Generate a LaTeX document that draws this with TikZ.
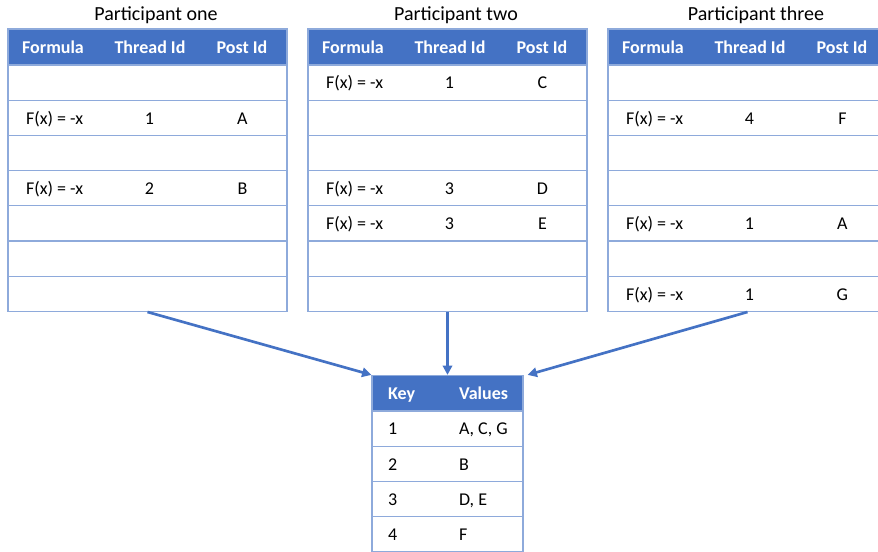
\documentclass[tikz,border=0pt]{standalone}
\usepackage{fontspec}
\setmainfont{Carlito}
\usepackage{tikz}
\usetikzlibrary{arrows.meta,positioning,calc}
\definecolor{headblue}{HTML}{4472C4}
\definecolor{gridblue}{HTML}{8EAADB}
\definecolor{arrowblue}{HTML}{4472C4}

\begin{document}
\begin{tikzpicture}[x=0.75pt,y=-0.75pt,>={Triangle[length=7pt,width=7pt]},
  font=\fontsize{13.5}{16}\selectfont,
  every node/.style={text height=2ex,text depth=0pt},
  head/.style={draw=gridblue,line width=0.9pt,fill=headblue,minimum width=209.25pt,minimum height=27pt,inner sep=0pt},
  row/.style={draw=gridblue,line width=0.9pt,fill=white,minimum width=209.25pt,minimum height=26.4pt,inner sep=0pt},
  keyhead/.style={head,minimum width=113.25pt},
  keyrow/.style={row,minimum width=113.25pt},
  htext/.style={text=white,font=\fontsize{13.5}{16}\selectfont\bfseries},
  ttext/.style={font=\fontsize{15}{18}\selectfont},
  link/.style={->,draw=arrowblue,line width=2pt}]
\useasboundingbox (0,0) rectangle (878,552);

% the three participant tables
\foreach \x/\i/\name in {8/1/one,308/2/two,608/3/three}{
  \node[ttext] (title\i) at (\x+148,14) {Participant \name};
  \node[head] (p\i h) at (\x+139.5,47) {};
  \foreach \r in {1,...,7}
    \node[row] (p\i r\r) at (\x+139.5,65+35.2*\r-17.6) {};
  \node[htext] (p\i hf) at (\x+45,47) {Formula};
  \node[htext] (p\i ht) at (\x+142,47) {Thread Id};
  \node[htext] (p\i hp) at (\x+234,47) {Post Id};
}

% table contents
\foreach \i/\r/\t/\p in {1/2/1/A,1/4/2/B,2/1/1/C,2/4/3/D,2/5/3/E,3/2/4/F,3/5/1/A,3/7/1/G}{
  \node[anchor=west] (f\i\r) at ($(p\i r\r.west)+(14,0)$) {F(x) = -x};
  \node (t\i\r) at ($(p\i r\r.west)+(142,0)$) {\t};
  \node (s\i\r) at ($(p\i r\r.west)+(235,0)$) {\p};
}

% merged key table
\node[keyhead] (kh) at (447.5,393.5) {};
\node[htext,anchor=west] (khk) at ($(kh.west)+(12,0)$) {Key};
\node[htext,anchor=west] (khv) at ($(kh.west)+(83,0)$) {Values};
\foreach \r/\k/\v in {1/1/{A, C, G},2/2/B,3/3/{D, E},4/4/F}{
  \node[keyrow] (k\r) at (447.5,411+35.2*\r-17.6) {};
  \node[anchor=west] (kk\r) at ($(k\r.west)+(12,0)$) {\k};
  \node[anchor=west] (kv\r) at ($(k\r.west)+(83,0)$) {\v};
}

\draw[link] (p1r7.south) -- (kh.north west);
\draw[link] (p2r7.south) -- (kh.north);
\draw[link] (p3r7.south) -- ($(kh.north east)+(4,0)$);
\end{tikzpicture}
\end{document}
